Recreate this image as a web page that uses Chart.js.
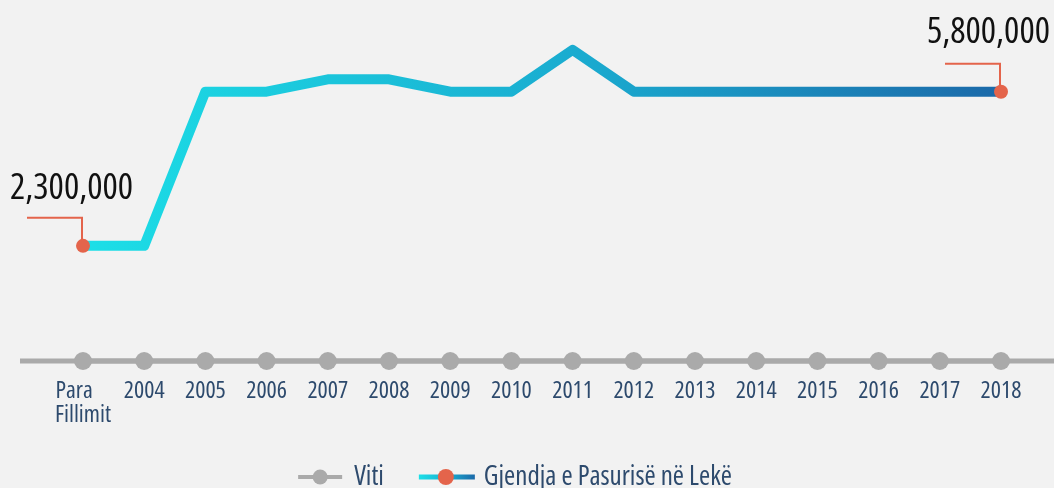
<!DOCTYPE html>
<html>
<head>
<meta charset="utf-8">
<script src="https://cdn.jsdelivr.net/npm/chart.js@4"></script>
<style>
  html, body { margin: 0; padding: 0; background: #f2f2f2; }
  #wrap { width: 1054px; height: 488px; }
</style>
</head>
<body>
<div id="wrap"><canvas id="lineChart"></canvas></div>
<script>
// Data
var years = [['Para    ', 'Fillimit'], '2004', '2005', '2006', '2007', '2008', '2009', '2010',
    '2011', '2012', '2013', '2014', '2015', '2016', '2017', '2018'];
var vitiValues = [0, 0, 0, 0, 0, 0, 0, 0, 0, 0, 0, 0, 0, 0, 0, 0];
var pasuriaValues = [2300000, 2300000, 5800000, 5800000, 6080000, 6080000, 5800000, 5800000,
    6750000, 5800000, 5800000, 5800000, 5800000, 5800000, 5800000, 5800000];
var seriesNames = ['Viti', 'Gjendja e Pasurisë në Lekë'];

var FONT = '"Open Sans", "Roboto Condensed", sans-serif';
var GRAY = '#aaaaaa';
var RED = '#e4644b';
var CYAN = '#1cdfe7';
var BLUE = '#1b69a9';
var LABEL = '#2d4a6d';

function lineGradient(ctx, left, right) {
    var g = ctx.createLinearGradient(left, 0, right, 0);
    g.addColorStop(0, CYAN);
    g.addColorStop(0.55, '#1aaacf');
    g.addColorStop(1, BLUE);
    return g;
}

function setFont(ctx, size) {
    ctx.font = 'normal condensed ' + size + 'px ' + FONT;
    ctx.fontStretch = 'condensed';
}

// grey timeline running across the whole width
var trackPlugin = {
    id: 'track',
    beforeDatasetsDraw: function (chart) {
        var y = chart.scales.y2.getPixelForValue(0);
        var ctx = chart.ctx;
        ctx.save();
        ctx.strokeStyle = GRAY;
        ctx.lineWidth = 5;
        ctx.beginPath();
        ctx.moveTo(20, y);
        ctx.lineTo(chart.width, y);
        ctx.stroke();
        ctx.restore();
    }
};

// leader lines and value labels for first and last point
var calloutPlugin = {
    id: 'callout',
    afterDatasetsDraw: function (chart) {
        var meta = chart.getDatasetMeta(1);
        var ctx = chart.ctx;
        var first = meta.data[0];
        var last = meta.data[meta.data.length - 1];
        ctx.save();
        ctx.strokeStyle = RED;
        ctx.lineWidth = 2;
        [first, last].forEach(function (p) {
            ctx.beginPath();
            ctx.moveTo(p.x - 56, p.y - 28);
            ctx.lineTo(p.x - 1, p.y - 28);
            ctx.lineTo(p.x - 1, p.y);
            ctx.stroke();
        });
        // end dots drawn over the leader
        ctx.fillStyle = RED;
        [first, last].forEach(function (p) {
            ctx.beginPath();
            ctx.arc(p.x, p.y, 7, 0, Math.PI * 2);
            ctx.fill();
        });
        ctx.fillStyle = '#111111';
        setFont(ctx, 36);
        ctx.textBaseline = 'alphabetic';
        ctx.textAlign = 'left';
        ctx.fillText(pasuriaValues[0].toLocaleString('en-US'), first.x - 73, first.y - 47);
        ctx.textAlign = 'right';
        ctx.fillText(pasuriaValues[pasuriaValues.length - 1].toLocaleString('en-US'), last.x + 49, last.y - 49);
        ctx.restore();
    }
};

// legend: line + dot markers followed by the series names
var legendPlugin = {
    id: 'lineLegend',
    afterDraw: function (chart) {
        var ctx = chart.ctx;
        var y = chart.height - 11;
        ctx.save();
        setFont(ctx, 27);
        var w0 = ctx.measureText(seriesNames[0]).width;
        var w1 = ctx.measureText(seriesNames[1]).width;
        var total = 44 + 12 + w0 + 35 + 56 + 9 + w1;
        var x = chart.width / 2 - total / 2 - 12;

        ctx.strokeStyle = GRAY;
        ctx.lineWidth = 4;
        ctx.beginPath(); ctx.moveTo(x, y); ctx.lineTo(x + 44, y); ctx.stroke();
        ctx.fillStyle = GRAY;
        ctx.beginPath(); ctx.arc(x + 22, y, 7.5, 0, Math.PI * 2); ctx.fill();
        x += 44 + 12;
        ctx.fillStyle = LABEL;
        ctx.textBaseline = 'middle';
        ctx.textAlign = 'left';
        ctx.fillText(seriesNames[0], x, y);
        x += w0 + 35;

        ctx.strokeStyle = lineGradient(ctx, x, x + 56);
        ctx.lineWidth = 5;
        ctx.beginPath(); ctx.moveTo(x, y); ctx.lineTo(x + 56, y); ctx.stroke();
        ctx.fillStyle = RED;
        ctx.beginPath(); ctx.arc(x + 27, y, 8, 0, Math.PI * 2); ctx.fill();
        x += 56 + 9;
        ctx.fillStyle = LABEL;
        ctx.fillText(seriesNames[1], x, y);
        ctx.restore();
    }
};

var ctx = document.getElementById('lineChart').getContext('2d');
var chart = new Chart(ctx, {
    type: 'line',
    data: {
        labels: years,
        datasets: [{
            label: seriesNames[0],
            data: vitiValues,
            yAxisID: 'y2',
            borderColor: GRAY,
            borderWidth: 5,
            backgroundColor: GRAY,
            pointRadius: 9,
            pointHoverRadius: 9,
            pointBorderWidth: 0,
            clip: false
        }, {
            label: seriesNames[1],
            data: pasuriaValues,
            yAxisID: 'y',
            borderColor: function (context) {
                var a = context.chart.chartArea;
                if (!a) return CYAN;
                return lineGradient(context.chart.ctx, a.left, a.right);
            },
            borderWidth: 10,
            borderJoinStyle: 'round',
            tension: 0,
            pointRadius: 0,
            pointHoverRadius: 0,
            clip: false
        }]
    },
    options: {
        responsive: true,
        maintainAspectRatio: false,
        animation: false,
        events: [],
        layout: { padding: { left: 83, right: 53, top: 0, bottom: 51 } },
        scales: {
            x: {
                offset: false,
                grid: { display: false },
                border: { display: false },
                ticks: {
                    color: LABEL,
                    font: { family: FONT, size: 24, weight: 'normal condensed', lineHeight: 1 },
                    padding: 10,
                    maxRotation: 0,
                    autoSkip: false
                }
            },
            y: {
                display: false,
                min: -313600,
                max: 7677000
            },
            y2: {
                display: false,
                min: 0,
                max: 1
            }
        },
        plugins: {
            tooltip: { enabled: false },
            legend: { display: false }
        }
    },
    plugins: [trackPlugin, calloutPlugin, legendPlugin]
});
</script>
</body>
</html>
